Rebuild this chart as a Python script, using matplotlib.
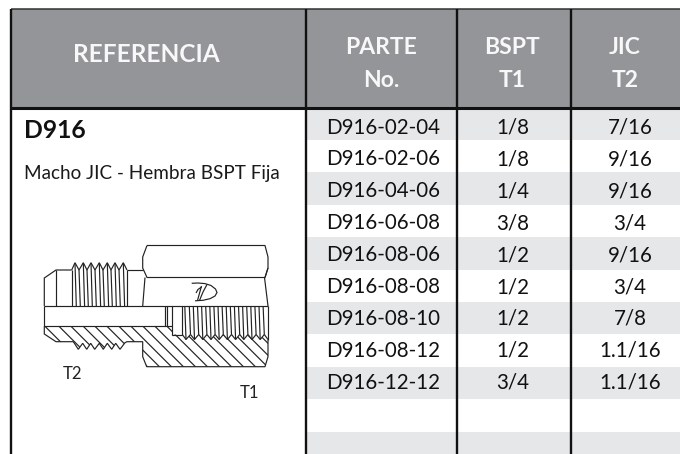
import matplotlib
matplotlib.use('Agg')
import matplotlib.pyplot as plt
from matplotlib.patches import Rectangle, Polygon

plt.rcParams['font.family'] = ['Lato', 'DejaVu Sans']

# Table data
headers = ['REFERENCIA', 'PARTE\nNo.', 'BSPT\nT1', 'JIC\nT2']
parts = ['D916-02-04', 'D916-02-06', 'D916-04-06', 'D916-06-08', 'D916-08-06',
         'D916-08-08', 'D916-08-10', 'D916-08-12', 'D916-12-12', '', '']
bspt = ['1/8', '1/8', '1/4', '3/8', '1/2', '1/2', '1/2', '1/2', '3/4', '', '']
jic = ['7/16', '9/16', '9/16', '3/4', '9/16', '3/4', '7/8', '1.1/16', '1.1/16', '', '']
ref_code = 'D916'
ref_name = 'Macho JIC - Hembra BSPT Fija'

col_x = [11, 305.5, 457, 571, 680]
head_x = [146.5, 381, 512, 625]
cell_x = [383.5, 513, 630]
head_top = 9
head_bot = 107.5
row_h = 32.4

fig = plt.figure(figsize=(6.8, 4.54), dpi=100)
ax = fig.add_axes([0, 0, 1, 1])
ax.set_xlim(0, 680)
ax.set_ylim(454, 0)
ax.axis('off')

# header band
ax.add_patch(Rectangle((col_x[0], head_top), col_x[4] - col_x[0], head_bot - head_top,
                       fc='#939598', ec='none'))
for i, h in enumerate(headers):
    ax.text(head_x[i], 55 if i == 0 else 64, h, color='#f8f8f8', fontsize=17.6 if i == 0 else 16.5,
            fontweight='bold', ha='center', va='center', linespacing=1.65)

# rows
for i in range(len(parts)):
    if i % 2 == 0:
        ax.add_patch(Rectangle((col_x[1], head_bot + i * row_h), col_x[4] - col_x[1], row_h,
                               fc='#e6e7e8', ec='none'))
    ym = 127.5 + i * 31.9
    ax.text(cell_x[0], ym, parts[i], fontsize=14.8, color='#111111', ha='center', va='center')
    ax.text(cell_x[1], ym, bspt[i], fontsize=14.8, color='#111111', ha='center', va='center')
    ax.text(cell_x[2], ym, jic[i], fontsize=14.8, color='#111111', ha='center', va='center')

# grid lines
ax.plot([col_x[0], 680], [head_top, head_top], color='#333333', lw=1.1, solid_capstyle='butt')
ax.plot([col_x[0], 680], [head_bot, head_bot], color='#111111', lw=2.2, solid_capstyle='butt')
for x in col_x[:4]:
    ax.plot([x, x], [head_top - 0.5, 454], color='#111111', lw=1.7, solid_capstyle='butt')

# reference cell
ax.text(23.5, 130, ref_code, fontsize=17.8, fontweight='bold', color='#111111', va='center')
ax.text(23.5, 173, ref_name, fontsize=13.6, color='#1a1a1a', va='center')

# fitting drawing
d = dict(color='#222222', lw=0.85, solid_capstyle='butt', solid_joinstyle='miter')


def seg(*pts):
    return ax.plot([p[0] for p in pts], [p[1] for p in pts], **d)[0]


# nut outline
seg((147, 245.5), (265, 245.5), (268, 257), (268, 268), (265, 277.5), (147, 277.5),
    (142.7, 268), (142.7, 257), (147, 245.5))
seg((145, 277.5), (142.7, 306))
seg((264.5, 277.5), (268, 306))
seg((265, 277.5), (268, 268))

# male end, upper half
seg((44.3, 306), (44.3, 278), (56, 270), (71.7, 270))
seg((56, 270), (56, 306))
seg((71.7, 270), (71.7, 306))
seg((127, 270), (142.7, 270))
seg((127, 270), (127, 306))
top_x = [71.7, 75, 79, 83.3, 87, 91, 95, 99.3, 103, 107.3, 111, 115, 119, 123.3, 127]
seg(*[(x, 270 if j % 2 == 0 else 262.7) for j, x in enumerate(top_x)])
for j, x in enumerate(top_x[1:-1]):
    seg((x, 270 if j % 2 == 1 else 263), (x + 1.3, 306))

# bore and shoulders
seg((44.3, 306), (268, 306))
seg((44.3, 306), (44.3, 326.3), (172, 326.3))
seg((165, 306), (165, 326.3))
seg((166.5, 306), (166.5, 326.3))
seg((172, 306), (172, 334.5), (182.3, 334.5))
seg((182.3, 306), (182.3, 334.5))

# female thread
fem_x = [182.3, 186, 190.5, 194.5, 198.7, 202.8, 206.9, 211, 215.1, 219.2, 223.3, 227.4, 231.5,
         235.6, 239.7, 243.8, 247.9, 252, 256.1, 260.2, 264.3, 268]
fem_y = [334.5 if j % 2 == 0 else 339.5 for j in range(len(fem_x))]
seg(*zip(fem_x, fem_y))
for x, y in zip(fem_x[1:-1], fem_y[1:-1]):
    seg((x - 1.2, 306), (x, y))

# outer lower half
low_x = [73.3, 78.3, 82.7, 86.7, 90.7, 94.7, 99.3, 103.3, 107.3, 111.7, 115.7, 120, 125]
low_y = [341.7, 349.3, 343.3, 349.3, 343.3, 349.3, 343.3, 349.3, 343.3, 349.3, 343.3, 349.3, 342.7]
outline = ([(44.3, 326.3), (44.3, 334), (56, 341.7)] + list(zip(low_x, low_y))
           + [(127, 341.7), (142.7, 341.7), (142.7, 356.7), (146.7, 366.7), (265, 366.7),
              (268, 356.7), (268, 339.5)])
seg(*outline)
seg((268, 339.5), (268, 306))

# hatching, clipped to the cut section
section = Polygon(outline + list(zip(fem_x, fem_y))[::-1]
                  + [(182.3, 334.5), (172, 334.5), (172, 326.3)],
                  closed=True, fc='none', ec='none', transform=ax.transData)
ax.add_patch(section)
hatch_start = [45, 59, 71, 83.3, 95, 107, 119, 131, 143, 155, 167, 179, 191, 203, 215, 227, 239, 251, 263]
for x0 in hatch_start:
    ln = seg((x0, 326.3), (x0 + 42, 368.3))
    ln.set_clip_path(section)

# maker logo
seg((191.7, 283.3), (198, 283), (205, 283.6), (211, 285.5), (215.5, 289), (217, 292.5),
    (215, 296), (210, 298.7), (203, 300.3), (195, 300.8))
seg((201.5, 286), (197.5, 300.5))
seg((207, 284.5), (203, 292), (199.5, 300.5))
seg((196, 293), (198, 289.5), (201.5, 287))

ax.text(72.7, 374, 'T2', fontsize=12, color='#222222', ha='center', va='center')
ax.text(250, 393, 'T1', fontsize=12, color='#222222', ha='center', va='center')

fig.savefig('out.png', dpi=100)
